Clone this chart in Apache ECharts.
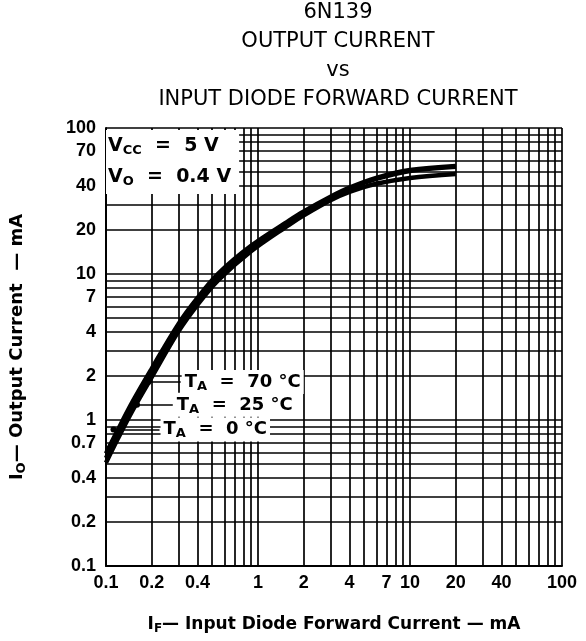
<!DOCTYPE html>
<html>
<head>
<meta charset="utf-8">
<script src="https://cdn.jsdelivr.net/npm/echarts@6/dist/echarts.min.js"></script>
<style>
  html, body { margin: 0; padding: 0; background: #fff; }
  #main { width: 586px; height: 641px; }
</style>
</head>
<body>
<div id="main"></div>
<script>
// input diode forward current IF (mA)
const forwardCurrent = [0.1, 0.12, 0.15, 0.2, 0.3, 0.4, 0.55, 0.9, 1.6, 2, 3, 4, 6, 10, 20];
// output current IO (mA) for each ambient temperature
const outputAt0C = [0.59, 0.86, 1.34, 2.25, 4.55, 6.85, 10.1, 15.6, 23.2, 26.8, 33.8, 39, 45.5, 51.5, 55];
const outputAt25C = [0.55, 0.8, 1.25, 2.1, 4.3, 6.5, 9.6, 15, 22.5, 26, 33, 38.5, 44.8, 50.8, 54.3];
const outputAt70C = [0.51, 0.75, 1.17, 1.97, 4.05, 6.15, 9.1, 14.3, 21.7, 25.2, 32, 36.5, 41.5, 45.5, 48.5];

const xLabels = [0.1, 0.2, 0.4, 1, 2, 4, 7, 10, 20, 40, 100];
const yLabels = [0.1, 0.2, 0.4, 0.7, 1, 2, 4, 7, 10, 20, 40, 70, 100];
// log paper rulings
const gridValues = [
  0.1, 0.2, 0.3, 0.4, 0.5, 0.6, 0.7, 0.8, 0.9,
  1, 2, 3, 4, 5, 6, 7, 8, 9,
  10, 20, 30, 40, 50, 60, 70, 80, 90, 100
];

const FONT = "'Liberation Sans', Arial, sans-serif";
const WIDE = "'DejaVu Sans', Verdana, sans-serif";
const fmt = (v) => String(+(+v).toPrecision(3));

function richText(size) {
  return {
    b: { fontFamily: WIDE, fontSize: size, fontWeight: 'bold', color: '#000' },
    s: { fontFamily: WIDE, fontSize: Math.round(size * 0.7), fontWeight: 'bold', color: '#000', padding: [9, 0, 0, 0] }
  };
}

function tempLabel(text) {
  return {
    show: true,
    position: 'end',
    distance: 1,
    formatter: '{b|T}{s|A}{b|  =  ' + text + '}',
    rich: richText(18),
    backgroundColor: '#fff',
    padding: [1, 3, 1, 3]
  };
}

function curve(name, values, leader) {
  return {
    name: name,
    type: 'line',
    smooth: 0.35,
    symbol: 'none',
    lineStyle: { color: '#000', width: 4.5 },
    data: forwardCurrent.map((x, i) => [x, values[i]]),
    markLine: {
      silent: true,
      symbol: ['circle', 'none'],
      symbolSize: 6,
      lineStyle: { color: '#000', width: 1.6, type: 'solid' },
      label: tempLabel(leader.text),
      data: [[{ coord: leader.from }, { coord: leader.to }]]
    }
  };
}

const chart = echarts.init(document.getElementById('main'));
chart.setOption({
  animation: false,
  backgroundColor: '#fff',
  title: [
    {
      text: '6N139\nOUTPUT CURRENT\nvs\nINPUT DIODE FORWARD CURRENT',
      left: 338,
      top: -2,
      padding: 0,
      textAlign: 'center',
      textStyle: { fontFamily: WIDE, fontSize: 21, fontWeight: 'normal', color: '#000', lineHeight: 29 }
    },
    {
      text: '{b|V}{s|CC}{b|  =  5 V}\n{b|V}{s|O}{b|  =  0.4 V}',
      left: 106,
      top: 130,
      padding: [1, 8, 1, 2],
      backgroundColor: '#fff',
      textStyle: { lineHeight: 31, rich: richText(19) }
    }
  ],
  grid: { left: 105, right: 24, top: 128, bottom: 75 },
  xAxis: {
    type: 'log',
    logBase: 10,
    min: 0.1,
    max: 100,
    name: '{b|I}{s|F}{b|— Input Diode Forward Current — mA}',
    nameLocation: 'middle',
    nameGap: 48,
    nameTextStyle: { rich: richText(17) },
    axisLine: { show: true, lineStyle: { color: '#000', width: 2 } },
    axisTick: { show: false, customValues: gridValues },
    splitLine: { show: true, lineStyle: { color: '#000', width: 1.7 } },
    axisLabel: {
      customValues: xLabels,
      formatter: fmt,
      color: '#000',
      fontFamily: FONT,
      fontSize: 18,
      fontWeight: 'bold',
      margin: 8
    }
  },
  yAxis: {
    type: 'log',
    logBase: 10,
    min: 0.1,
    max: 100,
    name: '{b|I}{s|O}{b|— Output Current  — mA}',
    nameLocation: 'middle',
    nameGap: 78,
    nameTextStyle: { rich: richText(18) },
    axisLine: { show: true, lineStyle: { color: '#000', width: 2 } },
    axisTick: { show: false, customValues: gridValues },
    splitLine: { show: true, lineStyle: { color: '#000', width: 1.7 } },
    axisLabel: {
      customValues: yLabels,
      formatter: fmt,
      color: '#000',
      fontFamily: FONT,
      fontSize: 18,
      fontWeight: 'bold',
      margin: 10
    }
  },
  series: [
    curve('TA = 70°C', outputAt70C, { text: '70 °C', from: [0.19, 1.82], to: [0.31, 1.82] }),
    curve('TA = 25°C', outputAt25C, { text: '25 °C', from: [0.16, 1.27], to: [0.275, 1.27] }),
    curve('TA = 0°C', outputAt0C, { text: '0 °C', from: [0.112, 0.86], to: [0.225, 0.86] })
  ]
});
</script>
</body>
</html>
